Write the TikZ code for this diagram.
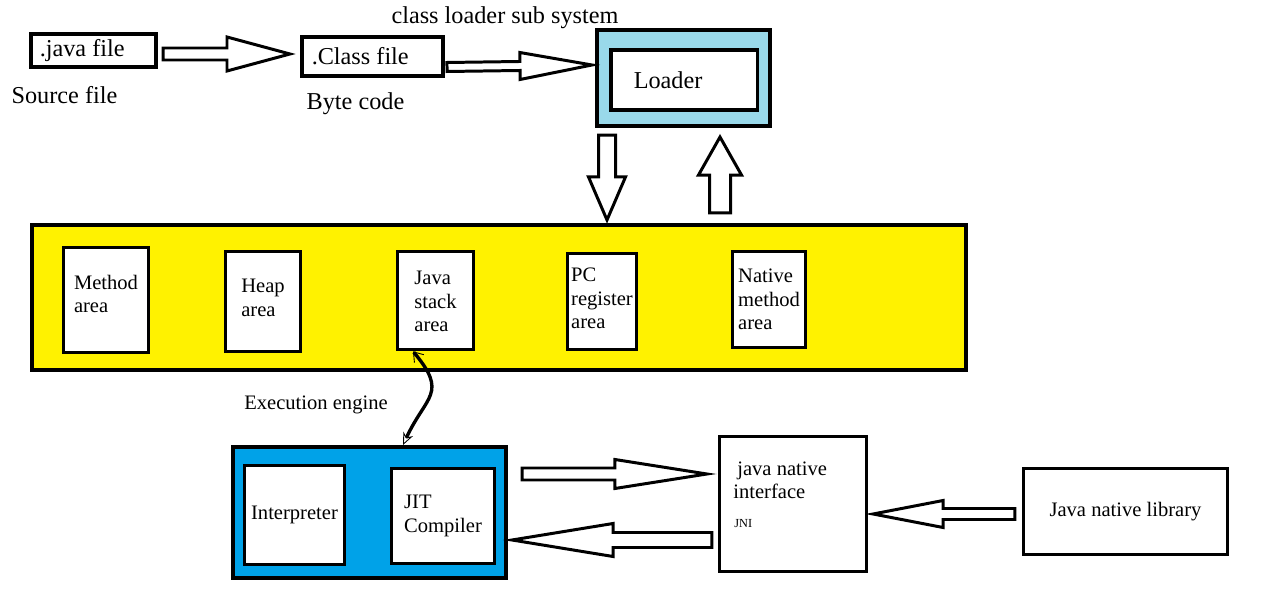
\documentclass[tikz,border=0pt]{standalone}
\usepackage{fontspec}
\setmainfont{Liberation Serif}
\usetikzlibrary{calc,arrows.meta}

\definecolor{ldrblue}{RGB}{153,217,234}
\definecolor{memyellow}{RGB}{255,242,0}
\definecolor{engblue}{RGB}{0,162,232}

\newcommand{\bigtxt}{\fontsize{13.8}{16}\selectfont}
\newcommand{\midtxt}{\fontsize{11.7}{13.4}\selectfont}

\tikzset{
  filebox/.style={draw, line width=2pt, fill=white, inner sep=0pt, font=\bigtxt},
  outerbox/.style={draw, line width=2.3pt, inner sep=0pt},
  areabox/.style={draw, line width=2.1pt, fill=white, inner sep=0pt, align=left, font=\midtxt},
  plainbox/.style={draw, line width=1.8pt, fill=white, inner sep=0pt, font=\midtxt},
  txt/.style={inner sep=0pt, font=\bigtxt},
  fat arrow/.style={draw, line width=1.7pt, fill=white, line join=miter},
}

% hollow block arrow: start, tip, half shaft, half head, head length
\newcommand{\fatarrow}[5]{%
  \coordinate (fa-s) at (#1);
  \coordinate (fa-t) at (#2);
  \coordinate (fa-b) at ($(fa-t)!#5!(fa-s)$);
  \draw[fat arrow] ($(fa-s)!#3!90:(fa-t)$) -- ($(fa-b)!#3!-90:(fa-s)$)
    -- ($(fa-b)!#4!-90:(fa-s)$) -- (fa-t) -- ($(fa-b)!#4!90:(fa-s)$)
    -- ($(fa-b)!#3!90:(fa-s)$) -- ($(fa-s)!#3!-90:(fa-t)$) -- cycle;}

\begin{document}
\begin{tikzpicture}
  \useasboundingbox (0,0) rectangle (25.6,-11.9);

  % source and byte code
  \node[filebox, minimum height=0.67cm, inner xsep=0.18cm] (java) at (1.87,-1.01) {\makebox[2.15cm][l]{.java file}};
  \node[txt] (srcfile) at (1.29,-1.90) {Source file};
  \node[filebox, minimum height=0.79cm, inner xsep=0.20cm] (class) at (7.45,-1.13) {\makebox[2.43cm][l]{.Class file}};
  \node[txt] (bytecode) at (7.11,-2.08) {Byte code};

  % class loader
  \node[txt] (clssub) at (10.10,-0.36) {class loader sub system};
  \node[outerbox, fill=ldrblue, minimum width=3.46cm, minimum height=1.92cm] (ldrbox) at (13.67,-1.56) {};
  \node[filebox, minimum height=1.21cm, inner xsep=0.46cm] (loader) at (13.68,-1.60) {\makebox[2.01cm][l]{Loader}};

  % runtime data areas
  \node[outerbox, fill=memyellow, minimum width=18.68cm, minimum height=2.90cm] (membox) at (9.98,-5.95) {};
  \node[areabox, minimum width=1.70cm, minimum height=2.10cm] (method) at (2.12,-6.00) {Method\\area\\[-6.6pt]};
  \node[areabox, minimum width=1.50cm, minimum height=2.00cm] (heap) at (5.26,-6.03) {Heap\\area\\[-8.9pt]};
  \node[areabox, minimum width=1.52cm, minimum height=1.96cm] (jstack) at (8.71,-6.01) {\\[-4.4pt]Java\\stack\\area};
  \node[areabox, minimum width=1.38cm, minimum height=1.92cm] (pc) at (12.04,-6.03) {\\[-8.9pt]PC\\register\\area};
  \node[areabox, minimum width=1.46cm, minimum height=1.92cm] (native) at (15.38,-5.99) {Native\\method\\area};

  % execution engine
  \node[txt, font=\midtxt] (exec) at (6.32,-8.10) {Execution engine};
  \node[outerbox, fill=engblue, minimum width=5.46cm, minimum height=2.62cm] (engine) at (7.39,-10.25) {};
  \node[areabox, minimum width=2.00cm, minimum height=1.98cm] (interp) at (5.89,-10.30) {Interpreter};
  \node[areabox, minimum width=2.06cm, minimum height=1.90cm] (jit) at (8.86,-10.32) {JIT\\Compiler};

  % native interface and library
  \node[plainbox, minimum width=2.94cm, minimum height=2.70cm] (jni) at (15.86,-10.08) {};
  \node[txt, font=\midtxt, anchor=base west] (jnitop) at (14.74,-9.50) {java native};
  \node[txt, font=\midtxt, anchor=base west] (jnimid) at (14.66,-9.96) {interface};
  \node[txt, font=\fontsize{7}{8}\selectfont, anchor=base west] (jnilbl) at (14.68,-10.54) {JNI};
  \node[plainbox, minimum width=4.08cm, minimum height=1.72cm] (lib) at (22.51,-10.23) {Java native library};

  % block arrows
  \fatarrow{[xshift=0.10cm,yshift=-0.07cm]java.east}{[xshift=-0.20cm,yshift=0.05cm]class.west}{0.12cm}{0.34cm}{1.26cm}
  \fatarrow{[xshift=0.04cm,yshift=-0.21cm]class.east}{[xshift=-0.06cm,yshift=0.26cm]ldrbox.west}{0.09cm}{0.27cm}{1.44cm}
  \fatarrow{[xshift=-1.53cm,yshift=-0.14cm]ldrbox.south}{[xshift=2.16cm,yshift=0.06cm]membox.north}{0.17cm}{0.37cm}{0.86cm}
  \fatarrow{[xshift=4.42cm,yshift=0.20cm]membox.north}{[xshift=0.73cm,yshift=-0.18cm]ldrbox.south}{0.21cm}{0.43cm}{0.76cm}
  \fatarrow{[xshift=0.28cm,yshift=0.77cm]engine.east}{[xshift=-0.22cm,yshift=0.60cm]jni.west}{0.12cm}{0.29cm}{1.84cm}
  \fatarrow{[xshift=-0.12cm,yshift=-0.72cm]jni.west}{[xshift=0.08cm,yshift=-0.55cm]engine.east}{0.15cm}{0.33cm}{2.02cm}
  \fatarrow{[xshift=-0.14cm,yshift=-0.05cm]lib.west}{[xshift=0.10cm,yshift=-0.20cm]jni.east}{0.11cm}{0.27cm}{1.40cm}

  % stack <-> engine
  \draw[line width=1.9pt, {Straight Barb[length=5pt,width=7pt,line width=0.5pt]}-{Stealth[open,length=7pt,width=6pt,line width=0.5pt]}]
    ([xshift=-0.45cm]jstack.south) to[out=-50,in=65,looseness=1.5] ([xshift=0.67cm]engine.north);
\end{tikzpicture}
\end{document}
